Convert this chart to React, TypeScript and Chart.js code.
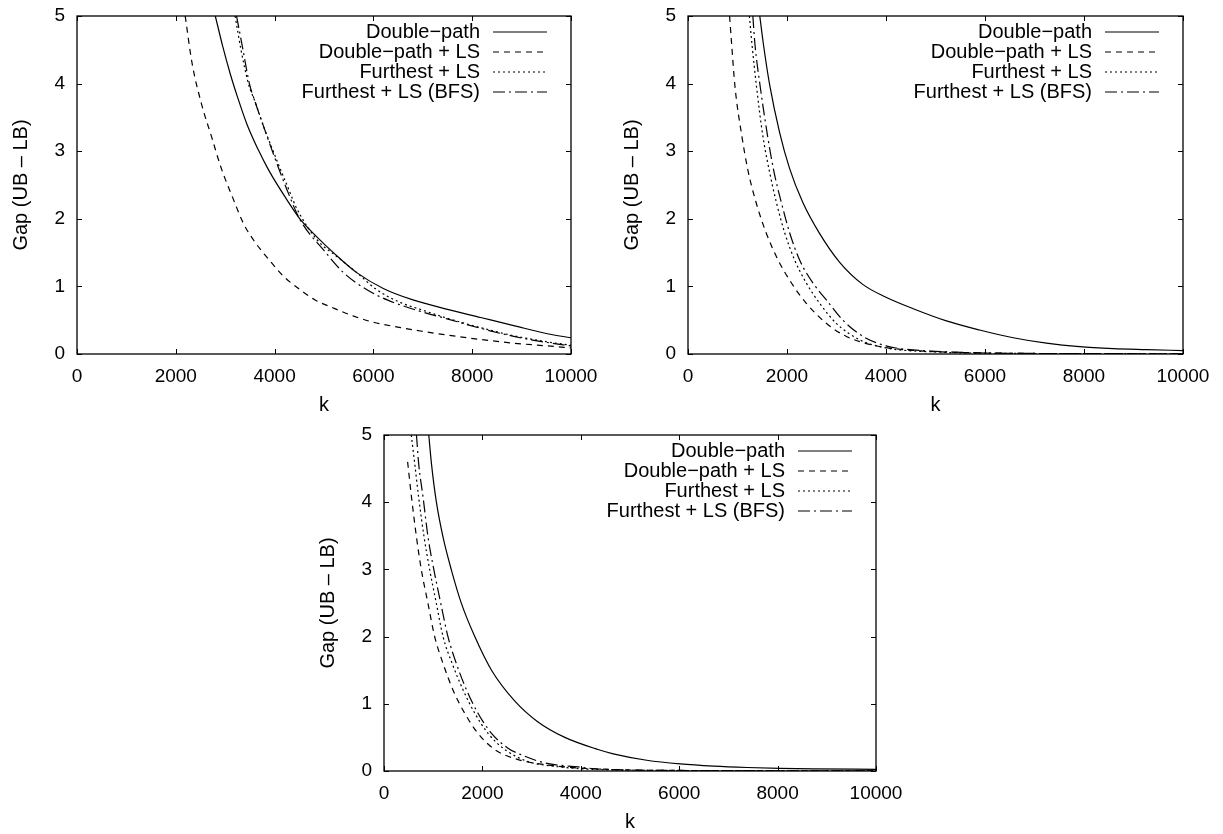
import React, { useEffect, useRef } from "react";
import { Chart, registerables } from "chart.js";

Chart.register(...registerables);

// ---------- shared labels / ticks ----------
const SERIES_LABELS = ["Double\u2212path", "Double\u2212path + LS", "Furthest + LS", "Furthest + LS (BFS)"];
const X_TICKS = [0, 2000, 4000, 6000, 8000, 10000];
const Y_TICKS = [0, 1, 2, 3, 4, 5];
const X_TITLE = "k";
const Y_TITLE = "Gap (UB \u2013 LB)";

// ---------- panel A (top left) ----------
const A_dp_k = [2800, 2950, 3100, 3250, 3440, 3670, 3880, 4250, 4520, 4860, 5190, 5670, 6200, 6800, 7500, 8170, 8840, 9520, 10000];
const A_dp_gap = [5.0, 4.55, 4.15, 3.8, 3.4, 3.02, 2.72, 2.28, 1.99, 1.73, 1.5, 1.2, 0.97, 0.8, 0.66, 0.54, 0.42, 0.3, 0.24];
const A_dpls_k = [2190, 2330, 2520, 2730, 2910, 3170, 3370, 3570, 3880, 4180, 4520, 4820, 5190, 5600, 6000, 6550, 6950, 7500, 8170, 8840, 9520, 10000];
const A_dpls_gap = [5.0, 4.3, 3.7, 3.2, 2.77, 2.28, 1.93, 1.69, 1.4, 1.15, 0.95, 0.8, 0.68, 0.56, 0.47, 0.39, 0.34, 0.28, 0.215, 0.16, 0.12, 0.09];
const A_fls_k = [3200, 3320, 3470, 3610, 3780, 3945, 4080, 4250, 4450, 4860, 5300, 5670, 6070, 6550, 6950, 7490, 8170, 8840, 9520, 10000];
const A_fls_gap = [5.0, 4.5, 4.0, 3.72, 3.36, 3.05, 2.8, 2.5, 2.15, 1.69, 1.42, 1.2, 0.95, 0.76, 0.66, 0.53, 0.39, 0.27, 0.18, 0.13];
const A_bfs_k = [3230, 3360, 3490, 3610, 3780, 3945, 4250, 4520, 4990, 5400, 5870, 6280, 6950, 7490, 8170, 8840, 9520, 10000];
const A_bfs_gap = [5.0, 4.5, 4.0, 3.72, 3.36, 3.02, 2.43, 1.98, 1.54, 1.2, 0.95, 0.8, 0.63, 0.52, 0.38, 0.26, 0.17, 0.12];

// ---------- panel B (top right) ----------
const B_dp_k = [1450, 1520, 1650, 1850, 2050, 2320, 2660, 3060, 3530, 4000, 4550, 5220, 5890, 6570, 7240, 7910, 8590, 9260, 10000];
const B_dp_gap = [5.0, 4.6, 3.98, 3.28, 2.75, 2.24, 1.78, 1.36, 1.03, 0.84, 0.67, 0.49, 0.355, 0.24, 0.16, 0.108, 0.08, 0.065, 0.05];
const B_dpls_k = [840, 880, 950, 1080, 1210, 1380, 1580, 1820, 2090, 2390, 2800, 3200, 3740, 4280, 5000, 6000, 7000, 8000, 9000, 10000];
const B_dpls_gap = [5.0, 4.6, 3.95, 3.26, 2.72, 2.23, 1.79, 1.39, 1.05, 0.75, 0.45, 0.26, 0.13, 0.07, 0.035, 0.015, 0.008, 0.005, 0.004, 0.003];
const B_fls_k = [1240, 1290, 1385, 1505, 1640, 1790, 1955, 2155, 2390, 2660, 3000, 3470, 4000, 5000, 6000, 7000, 8000, 9000, 10000];
const B_fls_gap = [5.0, 4.6, 3.95, 3.26, 2.72, 2.23, 1.79, 1.39, 1.05, 0.75, 0.45, 0.21, 0.09, 0.03, 0.012, 0.007, 0.005, 0.004, 0.003];
const B_bfs_k = [1310, 1350, 1460, 1600, 1730, 1890, 2055, 2255, 2525, 2795, 3130, 3535, 4000, 4280, 5000, 6000, 7000, 8000, 9000, 10000];
const B_bfs_gap = [5.0, 4.6, 3.95, 3.26, 2.72, 2.23, 1.79, 1.39, 1.05, 0.8, 0.5, 0.26, 0.12, 0.08, 0.04, 0.015, 0.008, 0.005, 0.004, 0.003];

// ---------- panel C (bottom) ----------
const C_dp_k = [910, 965, 1065, 1200, 1370, 1575, 1845, 2185, 2660, 3130, 3675, 4350, 4660, 5340, 6020, 6700, 7380, 8050, 8730, 10000];
const C_dp_gap = [5.0, 4.57, 4.0, 3.48, 2.99, 2.49, 2.0, 1.5, 1.04, 0.73, 0.5, 0.32, 0.255, 0.16, 0.105, 0.072, 0.052, 0.04, 0.032, 0.025];
const C_dpls_k = [480, 560, 660, 760, 895, 1030, 1200, 1400, 1640, 1910, 2250, 2725, 3270, 3950, 4350, 5000, 6000, 7000, 8000, 9000, 10000];
const C_dpls_gap = [4.6, 4.07, 3.48, 2.99, 2.49, 2.0, 1.6, 1.21, 0.86, 0.56, 0.32, 0.17, 0.094, 0.045, 0.03, 0.015, 0.008, 0.005, 0.004, 0.003, 0.003];
const C_fls_k = [555, 625, 705, 815, 930, 1065, 1200, 1385, 1605, 1845, 2115, 2455, 2930, 3470, 4080, 5000, 6000, 7000, 8000, 9000, 10000];
const C_fls_gap = [5.0, 4.57, 4.07, 3.48, 2.99, 2.49, 2.0, 1.6, 1.21, 0.86, 0.56, 0.32, 0.14, 0.07, 0.03, 0.012, 0.007, 0.005, 0.004, 0.003, 0.003];
const C_bfs_k = [660, 705, 795, 895, 1015, 1155, 1300, 1470, 1675, 1910, 2185, 2520, 2795, 3270, 3950, 4350, 5000, 6000, 7000, 8000, 9000, 10000];
const C_bfs_gap = [5.0, 4.57, 4.07, 3.48, 2.99, 2.49, 2.0, 1.6, 1.21, 0.86, 0.56, 0.34, 0.24, 0.12, 0.06, 0.03, 0.015, 0.008, 0.005, 0.004, 0.003, 0.003];

// ---------- styles ----------
const DASHES: number[][] = [[], [6, 5], [2, 3], [12, 4, 2, 4]];
const FONT_FAMILY = '"Liberation Sans", Arial, Helvetica, sans-serif';
const TICK_FONT_SIZE = 19;
const TEXT_FONT_SIZE = 20;

type SeriesData = { k: number[]; gap: number[] };

const gnuplotFrame = {
  id: "gnuplotFrame",
  afterDraw(chart: any) {
    const { ctx, chartArea: a, scales } = chart;
    ctx.save();
    ctx.setLineDash([]);
    ctx.strokeStyle = "#000";
    ctx.lineWidth = 1.3;
    ctx.strokeRect(a.left, a.top, a.right - a.left, a.bottom - a.top);
    ctx.lineWidth = 1;
    const tl = 5;
    X_TICKS.forEach((v) => {
      const px = Math.round(scales.x.getPixelForValue(v)) + 0.5;
      ctx.beginPath();
      ctx.moveTo(px, a.bottom);
      ctx.lineTo(px, a.bottom - tl);
      ctx.moveTo(px, a.top);
      ctx.lineTo(px, a.top + tl);
      ctx.stroke();
    });
    Y_TICKS.forEach((v) => {
      const py = Math.round(scales.y.getPixelForValue(v)) + 0.5;
      ctx.beginPath();
      ctx.moveTo(a.left, py);
      ctx.lineTo(a.left + tl, py);
      ctx.moveTo(a.right, py);
      ctx.lineTo(a.right - tl, py);
      ctx.stroke();
    });
    // legend (inside top-right, gnuplot style)
    ctx.font = `${TEXT_FONT_SIZE}px ${FONT_FAMILY}`;
    ctx.fillStyle = "#000";
    ctx.textAlign = "right";
    ctx.textBaseline = "middle";
    chart.data.datasets.forEach((ds: any, i: number) => {
      const y = a.top + 16 + i * 20;
      ctx.fillText(ds.label, a.right - 91, y);
      ctx.setLineDash(ds.borderDash || []);
      ctx.lineWidth = 1.2;
      ctx.beginPath();
      ctx.moveTo(a.right - 78, y);
      ctx.lineTo(a.right - 24, y);
      ctx.stroke();
    });
    ctx.restore();
  },
};

function Panel(props: { left: number; top: number; width: number; height: number; plotHeight: number; series: SeriesData[] }) {
  const { left, top, width, height, plotHeight, series } = props;
  const ref = useRef<HTMLCanvasElement>(null);
  useEffect(() => {
    if (!ref.current) return;
    const padTop = 16;
    const xAxisHeight = height - padTop - plotHeight;
    const tickFont = { family: FONT_FAMILY, size: TICK_FONT_SIZE };
    const textFont = { family: FONT_FAMILY, size: TEXT_FONT_SIZE };
    const chart = new Chart(ref.current, {
      type: "line",
      data: {
        datasets: series.map((s, i) => ({
          label: SERIES_LABELS[i],
          data: s.k.map((x, j) => ({ x, y: s.gap[j] })),
          borderColor: "#000",
          backgroundColor: "#000",
          borderWidth: 1.2,
          borderDash: DASHES[i],
          borderCapStyle: "butt",
          pointRadius: 0,
          fill: false,
          cubicInterpolationMode: "monotone",
        })),
      },
      options: {
        animation: false,
        responsive: false,
        devicePixelRatio: 1,
        events: [],
        layout: { padding: { left: 0, top: padTop, right: 40, bottom: 0 } },
        plugins: { legend: { display: false }, tooltip: { enabled: false }, title: { display: false } },
        scales: {
          x: {
            type: "linear",
            min: 0,
            max: 10000,
            afterBuildTicks: (s: any) => {
              s.ticks = X_TICKS.map((v) => ({ value: v }));
            },
            afterFit: (s: any) => {
              s.height = xAxisHeight;
            },
            grid: { display: false, drawTicks: true, tickLength: 11 },
            border: { display: false },
            ticks: { color: "#000", font: tickFont, padding: 0, maxRotation: 0, autoSkip: false, callback: (v: any) => String(v) },
            title: { display: true, text: X_TITLE, color: "#000", font: textFont, padding: { top: 0, bottom: 0 } },
          },
          y: {
            type: "linear",
            min: 0,
            max: 5,
            afterBuildTicks: (s: any) => {
              s.ticks = Y_TICKS.map((v) => ({ value: v }));
            },
            afterFit: (s: any) => {
              s.width = 77;
            },
            grid: { display: false, drawTicks: true, tickLength: 12 },
            border: { display: false },
            ticks: { color: "#000", font: tickFont, padding: 0, callback: (v: any) => String(v) },
            title: { display: true, text: Y_TITLE, color: "#000", font: textFont, padding: { top: 9, bottom: 0 } },
          },
        },
      } as any,
      plugins: [gnuplotFrame],
    });
    return () => chart.destroy();
  }, []);
  return (
    <canvas
      ref={ref}
      width={width}
      height={height}
      style={{ position: "absolute", left, top, width, height, display: "block" }}
    />
  );
}

export default function App() {
  const panelA: SeriesData[] = [
    { k: A_dp_k, gap: A_dp_gap },
    { k: A_dpls_k, gap: A_dpls_gap },
    { k: A_fls_k, gap: A_fls_gap },
    { k: A_bfs_k, gap: A_bfs_gap },
  ];
  const panelB: SeriesData[] = [
    { k: B_dp_k, gap: B_dp_gap },
    { k: B_dpls_k, gap: B_dpls_gap },
    { k: B_fls_k, gap: B_fls_gap },
    { k: B_bfs_k, gap: B_bfs_gap },
  ];
  const panelC: SeriesData[] = [
    { k: C_dp_k, gap: C_dp_gap },
    { k: C_dpls_k, gap: C_dpls_gap },
    { k: C_fls_k, gap: C_fls_gap },
    { k: C_bfs_k, gap: C_bfs_gap },
  ];
  return (
    <div style={{ position: "absolute", left: 0, top: 0, width: 1223, height: 834, overflow: "hidden", background: "#fff" }}>
      <Panel left={0} top={0} width={611} height={417} plotHeight={338} series={panelA} />
      <Panel left={611} top={0} width={612} height={417} plotHeight={338} series={panelB} />
      <Panel left={307} top={419} width={609} height={415} plotHeight={336} series={panelC} />
    </div>
  );
}
